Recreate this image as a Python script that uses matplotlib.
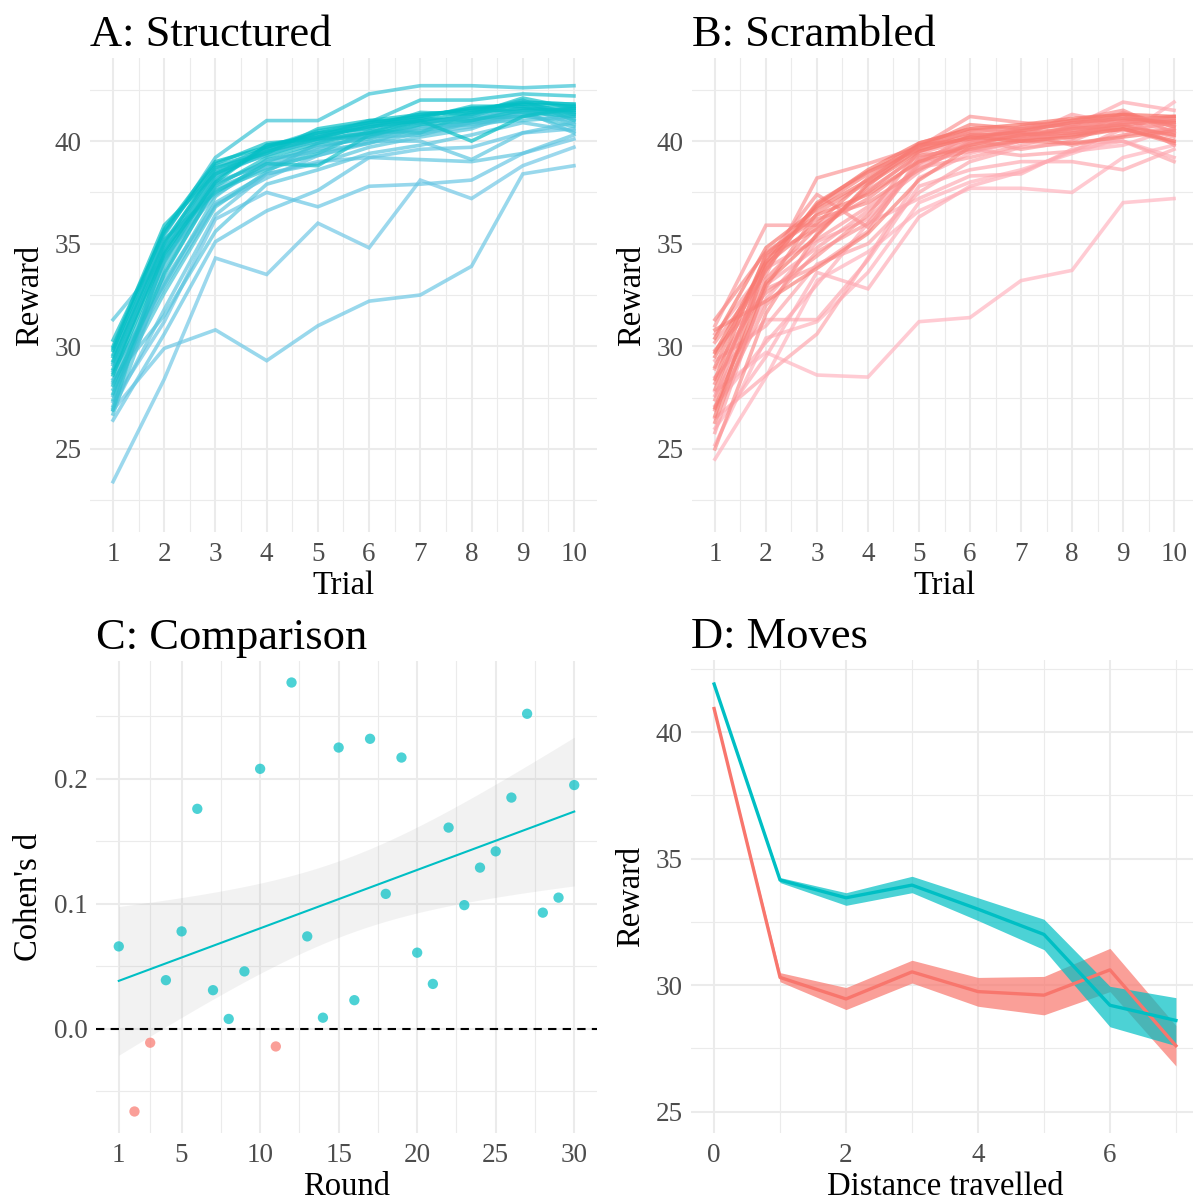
import numpy as np
import matplotlib
matplotlib.use("Agg")
import matplotlib.pyplot as plt
from matplotlib.colors import LinearSegmentedColormap

plt.rcParams['font.family'] = ['Liberation Serif', 'DejaVu Serif']

CYAN = "#00BFC4"
RED = "#F8766D"

trials = list(range(1, 11))
rounds = list(range(1, 31))

# mean reward per trial, one row per round (A: structured)
structured = [
    [23.4, 28.4, 34.3, 33.5, 36.0, 34.8, 38.1, 37.2, 38.8, 39.7],
    [26.9, 29.9, 30.8, 29.3, 31.0, 32.2, 32.5, 33.9, 38.4, 38.8],
    [27.3, 31.2, 36.2, 37.5, 36.8, 37.8, 37.9, 38.1, 39.4, 40.1],
    [26.4, 30.6, 35.1, 36.6, 37.6, 39.2, 39.6, 39.7, 40.4, 40.6],
    [27.0, 31.8, 36.4, 38.4, 39.0, 39.2, 39.1, 39.0, 39.4, 40.3],
    [28.2, 32.9, 36.9, 38.2, 39.3, 40.0, 40.0, 39.1, 40.4, 40.9],
    [28.4, 31.5, 35.6, 37.9, 38.6, 39.4, 39.8, 40.3, 40.9, 40.5],
    [27.6, 33.2, 37.0, 38.4, 38.9, 39.7, 40.2, 40.6, 41.5, 40.4],
    [31.3, 34.3, 37.4, 38.8, 39.3, 39.9, 40.4, 40.7, 41.2, 41.0],
    [26.7, 33.6, 37.7, 38.7, 39.6, 40.3, 40.6, 41.0, 41.7, 40.8],
    [27.1, 34.4, 38.0, 38.9, 39.7, 40.2, 40.3, 40.9, 41.0, 41.2],
    [28.8, 33.0, 37.3, 39.1, 39.5, 39.9, 40.7, 40.8, 41.3, 40.7],
    [27.9, 32.6, 36.8, 38.5, 39.9, 40.6, 40.9, 41.2, 41.6, 41.1],
    [29.1, 34.7, 38.3, 39.4, 40.0, 40.4, 40.5, 40.9, 41.4, 41.5],
    [29.2, 35.4, 39.2, 41.0, 41.0, 42.3, 42.7, 42.7, 42.6, 42.7],
    [27.4, 33.9, 37.9, 39.0, 39.8, 40.1, 40.8, 41.3, 41.9, 41.3],
    [28.3, 34.1, 38.2, 39.6, 40.2, 40.7, 41.1, 41.0, 41.5, 41.6],
    [26.9, 34.8, 37.6, 38.6, 39.4, 40.5, 40.4, 41.4, 42.0, 41.0],
    [29.6, 35.1, 38.5, 39.3, 40.1, 40.2, 41.0, 41.1, 41.2, 41.7],
    [28.7, 34.9, 38.6, 39.7, 40.5, 40.9, 42.0, 42.0, 42.3, 42.2],
    [27.7, 34.2, 38.1, 39.8, 40.3, 40.8, 41.3, 41.5, 41.8, 41.4],
    [29.9, 35.6, 38.8, 39.5, 40.2, 41.0, 40.9, 41.2, 41.9, 41.8],
    [28.1, 33.5, 37.8, 39.2, 39.9, 40.4, 41.2, 41.6, 41.4, 41.2],
    [29.5, 35.2, 37.5, 38.9, 38.8, 40.3, 40.8, 41.0, 41.5, 41.4],
    [28.9, 34.6, 38.4, 39.6, 40.4, 40.6, 41.4, 41.3, 42.1, 41.6],
    [30.3, 35.5, 38.9, 39.9, 40.1, 40.8, 41.1, 41.7, 41.7, 41.3],
    [30.0, 35.9, 38.4, 39.5, 40.1, 40.4, 41.0, 40.0, 41.2, 41.6],
    [29.3, 35.0, 38.7, 39.4, 40.6, 41.0, 41.3, 41.5, 41.9, 41.8],
    [28.6, 34.5, 38.0, 39.8, 40.2, 40.7, 41.0, 41.4, 41.6, 41.5],
    [29.8, 35.7, 39.0, 39.7, 40.4, 40.9, 41.2, 41.6, 41.8, 41.7],
]

# B: scrambled
scrambled = [
    [27.8, 29.7, 28.6, 28.5, 31.2, 31.4, 33.2, 33.7, 37.0, 37.2],
    [24.5, 28.5, 33.2, 34.6, 36.6, 37.7, 37.7, 37.5, 39.2, 39.8],
    [25.2, 30.4, 31.2, 33.6, 37.0, 38.0, 38.6, 39.4, 40.2, 41.9],
    [26.0, 29.5, 33.6, 32.8, 36.3, 37.8, 38.5, 39.5, 39.8, 40.6],
    [27.1, 30.2, 33.0, 36.0, 37.2, 38.3, 38.4, 39.6, 40.0, 39.2],
    [28.5, 31.3, 31.3, 34.2, 37.8, 38.6, 39.0, 39.0, 38.6, 39.6],
    [26.5, 28.6, 30.6, 34.3, 38.2, 39.4, 40.0, 40.7, 41.9, 41.5],
    [29.3, 31.0, 34.0, 35.0, 37.5, 39.0, 39.7, 39.9, 40.0, 39.0],
    [27.6, 32.3, 35.1, 36.2, 38.8, 39.6, 39.3, 39.5, 40.6, 40.0],
    [25.8, 33.0, 34.8, 36.6, 38.5, 40.0, 40.2, 41.3, 40.8, 40.3],
    [30.6, 33.8, 35.2, 36.8, 38.7, 39.2, 39.8, 40.4, 40.9, 41.2],
    [28.9, 32.8, 33.9, 35.6, 39.2, 39.8, 40.4, 40.1, 41.4, 40.7],
    [31.0, 35.9, 35.9, 37.5, 39.4, 40.1, 39.6, 40.0, 41.0, 40.5],
    [26.9, 32.0, 34.6, 36.0, 39.0, 39.5, 40.0, 40.6, 41.2, 39.8],
    [30.2, 33.5, 38.2, 38.9, 39.7, 41.2, 40.9, 40.7, 40.5, 40.9],
    [27.4, 34.2, 37.4, 35.8, 38.9, 40.3, 40.1, 40.3, 40.8, 40.2],
    [29.8, 32.6, 34.4, 36.4, 39.5, 40.2, 40.5, 40.9, 41.1, 41.0],
    [25.0, 31.6, 35.5, 37.8, 39.9, 40.6, 40.4, 39.8, 40.3, 40.6],
    [28.2, 33.3, 35.8, 37.2, 39.1, 40.0, 40.7, 41.0, 41.5, 40.4],
    [31.3, 34.6, 36.2, 37.0, 38.6, 39.9, 40.3, 40.5, 40.9, 41.1],
    [26.3, 32.9, 36.5, 38.0, 39.6, 40.5, 40.6, 40.8, 41.3, 40.8],
    [29.0, 34.4, 35.7, 37.6, 39.3, 39.6, 40.1, 40.3, 40.6, 39.9],
    [27.9, 33.9, 36.8, 38.4, 39.8, 40.4, 40.2, 40.7, 41.0, 41.2],
    [30.8, 32.2, 33.8, 35.5, 38.1, 39.7, 40.0, 39.9, 40.2, 40.5],
    [26.6, 34.0, 36.0, 38.2, 39.7, 40.8, 40.6, 41.0, 41.3, 40.7],
    [29.5, 33.7, 37.0, 38.5, 39.6, 40.3, 40.4, 40.6, 40.8, 41.0],
    [28.4, 34.5, 36.4, 37.4, 39.0, 39.8, 40.3, 40.4, 40.7, 40.3],
    [30.4, 34.8, 36.7, 38.1, 39.8, 40.1, 40.5, 40.9, 41.1, 40.9],
    [27.0, 33.1, 35.4, 37.9, 39.5, 40.2, 40.0, 40.2, 40.6, 40.0],
    [29.7, 34.1, 36.9, 38.6, 39.9, 40.6, 40.8, 41.1, 41.3, 41.2],
]

# C: effect size per round
cohens_d = [0.066, -0.066, -0.011, 0.039, 0.078, 0.176, 0.031, 0.008, 0.046, 0.208,
            -0.014, 0.277, 0.074, 0.009, 0.225, 0.023, 0.232, 0.108, 0.217, 0.061,
            0.036, 0.161, 0.099, 0.129, 0.142, 0.185, 0.252, 0.093, 0.105, 0.195]

# D: reward by distance travelled
distance = [0, 1, 2, 3, 4, 5, 6, 7]
moves_struct = [41.9, 34.15, 33.45, 33.95, 33.0, 32.0, 29.2, 28.6]
moves_struct_lo = [41.83, 34.05, 33.15, 33.65, 32.55, 31.4, 28.35, 27.6]
moves_struct_hi = [41.97, 34.25, 33.65, 34.3, 33.45, 32.6, 29.95, 29.5]
moves_scram = [40.93, 30.3, 29.45, 30.52, 29.74, 29.6, 30.6, 27.6]
moves_scram_lo = [40.86, 30.13, 29.03, 30.08, 29.16, 28.82, 29.74, 26.8]
moves_scram_hi = [41.0, 30.49, 29.9, 30.98, 30.3, 30.34, 31.45, 28.4]

W, H = 1193, 1200
fig = plt.figure(figsize=(W / 100, H / 100), dpi=100)


def px_axes(l, t, r, b):
    return fig.add_axes([l / W, 1 - b / H, (r - l) / W, (b - t) / H])


def style(ax, title, xlabel, ylabel):
    for s in ax.spines.values():
        s.set_visible(False)
    ax.grid(which='major', color='#EBEBEB', linewidth=1.5)
    ax.grid(which='minor', color='#EBEBEB', linewidth=0.8)
    ax.set_axisbelow(True)
    ax.tick_params(which='both', length=0, colors='#4D4D4D', labelsize=19.5)
    ax.tick_params(axis='x', pad=7.5)
    ax.tick_params(axis='y', pad=6)
    ax.set_title(title, loc='left', fontsize=32, pad=9)
    ax.set_xlabel(xlabel, fontsize=23.5, labelpad=2)
    ax.set_ylabel(ylabel, fontsize=23.5, labelpad=7)


def trial_panel(ax, data, low, high, title):
    cmap = LinearSegmentedColormap.from_list('g', [low, high])
    for i, row in enumerate(data):
        ax.plot(trials, row, color=cmap(i / (len(data) - 1)), alpha=0.7,
                linewidth=2.6, solid_joinstyle='miter')
    ax.set_xlim(0.55, 10.45)
    ax.set_ylim(20.95, 44.05)
    ax.set_xticks(trials)
    ax.set_xticks(np.arange(1.5, 10, 1), minor=True)
    ax.set_yticks([25, 30, 35, 40])
    ax.set_yticks([22.5, 27.5, 32.5, 37.5, 42.5], minor=True)
    style(ax, title, 'Trial', 'Reward')


axA = px_axes(90, 58, 597, 532)
trial_panel(axA, structured, '#72C8E6', CYAN, 'A: Structured')
axB = px_axes(692, 58, 1197, 532)
trial_panel(axB, scrambled, '#FFB6C1', RED, 'B: Scrambled')

# C: comparison with linear fit and 95% band
axC = px_axes(96, 661, 597, 1133)
x = np.array(rounds, dtype=float)
y = np.array(cohens_d)
slope, icpt = np.polyfit(x, y, 1)
resid = y - (slope * x + icpt)
n = len(x)
s = np.sqrt(np.sum(resid ** 2) / (n - 2))
xg = np.linspace(1, 30, 100)
yg = slope * xg + icpt
se = s * np.sqrt(1 / n + (xg - x.mean()) ** 2 / np.sum((x - x.mean()) ** 2))
t975 = 2.048
axC.fill_between(xg, yg - t975 * se, yg + t975 * se, color='#999999', alpha=0.12,
                 linewidth=0)
axC.plot(xg, yg, color=CYAN, linewidth=1.5)
axC.axhline(0, color='black', linestyle=(0, (4, 3)), linewidth=1.5)
pt_colors = np.where(y > 0, CYAN, RED)
axC.scatter(x, y, c=pt_colors, s=55, alpha=0.7, linewidths=0, zorder=3)
axC.set_xlim(-0.45, 31.45)
axC.set_ylim(-0.0832, 0.2942)
axC.set_xticks([1, 5, 10, 15, 20, 25, 30])
axC.set_xticks([3, 7.5, 12.5, 17.5, 22.5, 27.5], minor=True)
axC.set_yticks([0.0, 0.1, 0.2])
axC.set_yticklabels(['0.0', '0.1', '0.2'])
axC.set_yticks([-0.05, 0.05, 0.15, 0.25], minor=True)
style(axC, 'C: Comparison', 'Round', "Cohen's d")

# D: moves
axD = px_axes(691, 660, 1199, 1133)
axD.fill_between(distance, moves_scram_lo, moves_scram_hi, color=RED, alpha=0.7,
                 linewidth=0)
axD.plot(distance, moves_scram, color=RED, linewidth=2.4)
axD.fill_between(distance, moves_struct_lo, moves_struct_hi, color=CYAN, alpha=0.7,
                 linewidth=0)
axD.plot(distance, moves_struct, color=CYAN, linewidth=2.4)
axD.set_xlim(-0.35, 7.35)
axD.set_ylim(24.15, 42.85)
axD.set_xticks([0, 2, 4, 6])
axD.set_xticks([1, 3, 5, 7], minor=True)
axD.set_yticks([25, 30, 35, 40])
axD.set_yticks([27.5, 32.5, 37.5, 42.5], minor=True)
style(axD, 'D: Moves', 'Distance travelled', 'Reward')

fig.savefig('out.png', dpi=100)
